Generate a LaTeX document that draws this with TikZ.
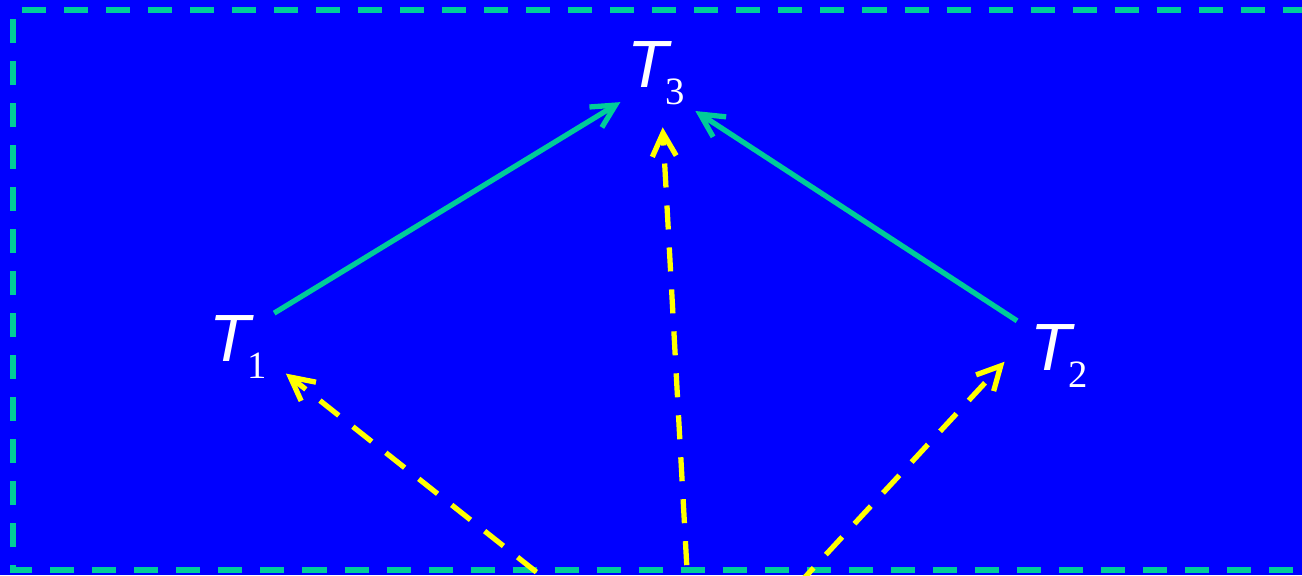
\documentclass[tikz,border=0pt]{standalone}
\usepackage{fontspec}
\setmainfont{Liberation Serif}
\newfontfamily\lsans{Liberation Sans}
\usepackage{tikz}
\usetikzlibrary{arrows.meta}
\definecolor{bgblue}{HTML}{0000FF}
\definecolor{framegreen}{HTML}{00CC99}
\definecolor{flowyellow}{HTML}{FFFF00}
\newcommand{\tlab}[1]{{\lsans\itshape T}\kern-0.8pt\raisebox{-4.8pt}{\fontsize{11pt}{12pt}\selectfont #1}}

\begin{document}
\begin{tikzpicture}[x=0.01cm,y=-0.01cm,
  tnode/.style={circle,minimum size=1.08cm,inner sep=0pt,text=white,font=\fontsize{19pt}{21pt}\selectfont},
  frame/.style={draw=framegreen,line width=1.7pt,dash pattern=on 0.24cm off 0.18cm,dash phase=0.33cm},
  dep/.style={->,draw=framegreen,line width=1.5pt},
  flow/.style={->,draw=flowyellow,line width=1.5pt,dash pattern=on 0.24cm off 0.18cm},
  >={Straight Barb[length=6.6pt,width=6.8pt]}]
  \useasboundingbox (0,0) rectangle (1302,575);
  \clip (0,0) rectangle (1302,575);
  \fill[bgblue] (0,0) rectangle (1302,575);
  \draw[frame] (13,10) -- (13,570) -- (1340,570);
  \draw[frame] (13,10) -- (1340,10);
  \node[tnode] (T1) at (238,347) {\tlab{1}};
  \node[tnode] (T2) at (1059,356) {\tlab{2}};
  \node[tnode] (T3) at (656,73) {\tlab{3}};
  \coordinate (src) at (694,697);
  \draw[dep,shorten <=-1.5pt,shorten >=-2.5pt] (T1.42) -- (T3.218);
  \draw[dep] (T2.140) -- (T3.-44);
  \draw[flow,dash phase=0.09cm] (src) -- (T1.-29);
  \draw[flow,dash phase=0.36cm] (src) -- (T3.-83);
  \draw[flow,dash phase=0.16cm] (src) -- (T2.186);
\end{tikzpicture}
\end{document}
